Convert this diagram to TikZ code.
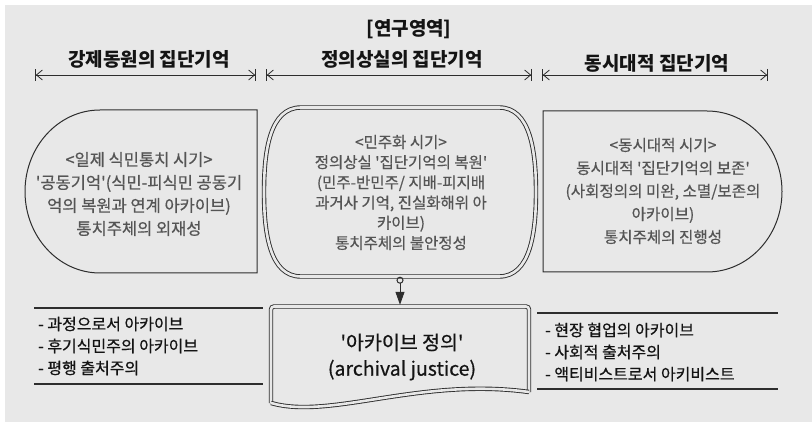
\documentclass[tikz,border=0pt]{standalone}
\usepackage{fontspec}
\setmainfont{Noto Sans CJK KR}[Ligatures=TeXOff]
\newfontfamily\medfont{Noto Sans CJK KR}[Ligatures=TeXOff, FakeBold=0.6]
\usetikzlibrary{arrows.meta}
\definecolor{bg}{RGB}{232,232,232}
\definecolor{lncol}{RGB}{45,45,45}
\definecolor{txtgray}{RGB}{85,85,85}
\definecolor{headcol}{RGB}{20,20,20}
\tikzset{
  boxtext/.style={text=txtgray, align=center, inner sep=0pt, font=\medfont\fontsize{16.5}{23}\selectfont},
  midtext/.style={text=txtgray, align=center, inner sep=0pt, font=\medfont\fontsize{15.5}{20.2}\selectfont},
  sidetext/.style={text=txtgray, align=center, inner sep=0pt, font=\medfont\fontsize{15.6}{23}\selectfont},
  headtext/.style={text=headcol, inner sep=0pt, font=\bfseries\fontsize{19}{21}\selectfont},
  dimline/.style={draw=lncol, line width=0.8pt,
    {Bar[width=12pt]Straight Barb[length=6pt,width=10pt]}-{Straight Barb[length=6pt,width=10pt]Bar[width=12pt]}},
  shapeline/.style={draw=lncol, line width=1pt},
  dblline/.style={draw=lncol, line width=0.9pt, double=bg, double distance=2.6pt},
  listtext/.style={anchor=west, text=headcol, inner sep=0pt, align=left, font=\medfont\fontsize{16}{22}\selectfont},
  ruleline/.style={draw=lncol, line width=1.2pt},
  doctext/.style={text=headcol, align=center, inner sep=0pt, font=\medfont\fontsize{19.5}{26}\selectfont},
}
\begin{document}
\begin{tikzpicture}[x=1pt,y=-1pt]
\useasboundingbox (0,0) rectangle (812,422);
\fill[white] (0,0) rectangle (812,422);
\fill[bg] (5,5) rectangle (812,422);

% headings
\node[headtext] (research) at (409,29) {[연구영역]};
\node[headtext] (h1) at (149,59) {강제동원의 집단기억};
\node[headtext] (h2) at (402,59) {정의상실의 집단기억};
\node[headtext] (h3) at (657,63) {동시대적 집단기억};

% dimension lines
\coordinate (d1a) at (35,75);  \coordinate (d1b) at (256,75);
\coordinate (d2a) at (266,75); \coordinate (d2b) at (532,75);
\coordinate (d3a) at (542,75); \coordinate (d3b) at (768,75);
\draw[dimline] (d1a) -- (d1b);
\draw[dimline] (d2a) -- (d2b);
\draw[dimline] (d3a) -- (d3b);

% left box
\draw[shapeline] (257,110) -- (100,110)
  arc[start angle=-90, end angle=-270, x radius=75, y radius=81.5]
  -- (257,273) -- cycle;
\node[boxtext] (ltext) at (139,194) {<일제 식민통치 시기>\\'공동기억'(식민-피식민 공동기\\억의 복원과 연계 아카이브)\\통치주체의 외재성};

% right box
\draw[shapeline] (543,111) -- (707,111)
  arc[start angle=-90, end angle=90, x radius=75, y radius=80.5]
  -- (543,272) -- cycle;
\node[sidetext] (rtext) at (663,191) {<동시대적 시기>\\동시대적 '집단기억의 보존'\\(사회정의의 미완, 소멸/보존의\\아카이브)\\통치주체의 진행성};

% middle box
\node[minimum width=272pt, minimum height=169pt, inner sep=0pt] (mid) at (400,192) {};
\draw[dblline] (301,107.5) -- (499,107.5)
  .. controls (530,107.5) and (536,150) .. (536,192)
  .. controls (536,234) and (530,276.5) .. (499,276.5)
  -- (301,276.5)
  .. controls (270,276.5) and (264,234) .. (264,192)
  .. controls (264,150) and (270,107.5) .. (301,107.5) -- cycle;
\node[midtext] (mtext) at (401,192.5) {<민주화 시기>\\정의상실 '집단기억의 복원'\\(민주-반민주/ 지배-피지배\\과거사 기억, 진실화해위 아\\카이브)\\통치주체의 불안정성};

% document box
\node[minimum width=260pt, minimum height=96pt, inner sep=0pt] (doc) at (400,353) {};
\draw[dblline, rounded corners=3pt] (271,403) -- (271,306.5) -- (529,306.5) -- (529,392);
\draw[dblline] (529,392) .. controls (420,377) and (330,420) .. (271,403);
\node[doctext] (dtext) at (402,357) {'아카이브 정의'\\(archival justice)};

% connector
\draw[draw=lncol, line width=1pt, {Circle[open, length=7pt, width=7pt]}-{Triangle[length=13pt, width=9pt]}] (mid.south) -- (mid.south |- doc.north);

% left list
\coordinate (l1a) at (34,308); \coordinate (l1b) at (263,308);
\coordinate (l2a) at (34,384); \coordinate (l2b) at (263,384);
\draw[ruleline] (l1a) -- (l1b);
\draw[ruleline] (l2a) -- (l2b);
\node[listtext] (llist) at (38,346) {- 과정으로서 아카이브\\- 후기식민주의 아카이브\\- 평행 출처주의};

% right list
\coordinate (r1a) at (537,313); \coordinate (r1b) at (778,313);
\coordinate (r2a) at (537,389); \coordinate (r2b) at (778,389);
\draw[ruleline] (r1a) -- (r1b);
\draw[ruleline] (r2a) -- (r2b);
\node[listtext] (rlist) at (545,352) {- 현장 협업의 아카이브\\- 사회적 출처주의\\- 액티비스트로서 아키비스트};
\end{tikzpicture}
\end{document}
